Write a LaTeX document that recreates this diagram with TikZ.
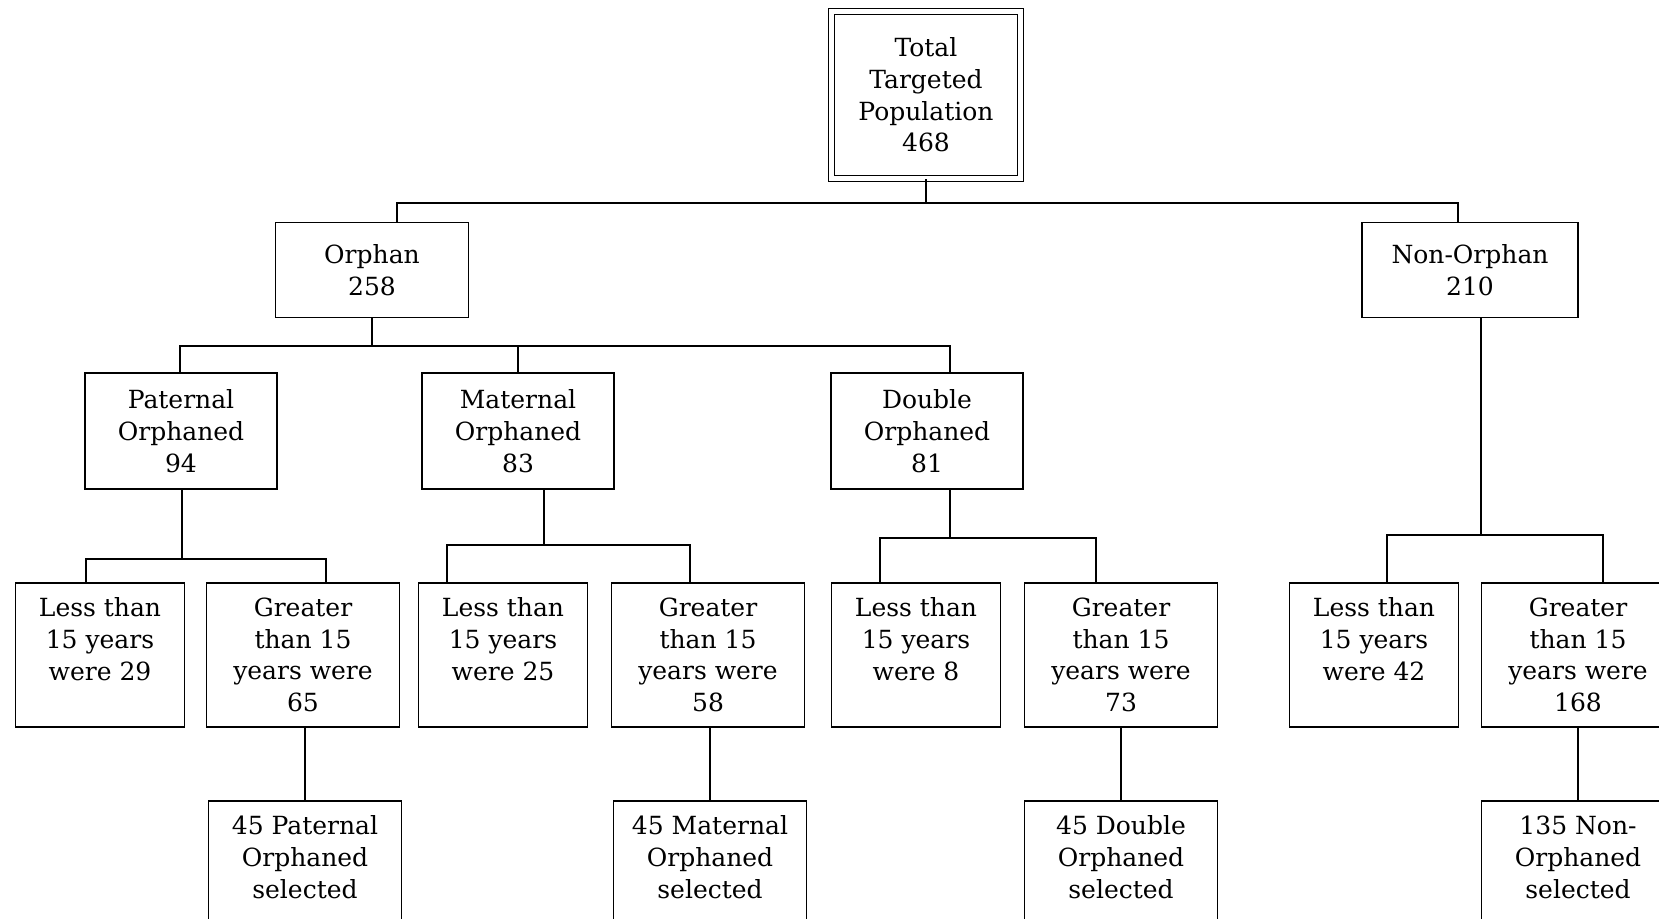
\documentclass[tikz,border=0pt]{standalone}
\usepackage{fontspec}
\setmainfont{DejaVu Serif}

\begin{document}
\begin{tikzpicture}[x=0.5pt,y=-0.5pt,line width=0.9pt,
    box/.style={draw,align=center,inner sep=0pt,font=\fontsize{12.5}{15.85}\selectfont},
    mid/.style={box,minimum width=96pt,minimum height=58pt},
    lessbox/.style={box,minimum width=84.5pt,minimum height=72pt},
    morebox/.style={box,minimum width=96.5pt,minimum height=72pt}]

\useasboundingbox (0,0) rectangle (1659,918);
\clip (0,0) rectangle (1659,918);

\node[box,double,line width=0.7pt,double distance=2.2pt,minimum width=94.5pt,minimum height=83.5pt] (total) at (926,95) {Total\\Targeted\\Population\\468};

\node[box,minimum width=96.5pt,minimum height=47.5pt] (orph) at (372,270) {Orphan\\258};
\node[box,minimum width=108pt,minimum height=47.5pt] (nonorph) at (1470,270) {Non-Orphan\\210};

\node[mid] (pat) at (181,431) {Paternal\\Orphaned\\94};
\node[mid] (mat) at (518,431) {Maternal\\Orphaned\\83};
\node[mid] (dbl) at (927,431) {Double\\Orphaned\\81};

\node[lessbox] (lessP) at (100,655) {Less than\\15 years\\were 29\\~};
\node[morebox] (greatP) at (303,655) {Greater\\than 15\\years were\\65};
\node[lessbox] (lessM) at (503,655) {Less than\\15 years\\were 25\\~};
\node[morebox] (greatM) at (708,655) {Greater\\than 15\\years were\\58};
\node[lessbox] (lessD) at (916,655) {Less than\\15 years\\were 8\\~};
\node[morebox] (greatD) at (1121,655) {Greater\\than 15\\years were\\73};
\node[lessbox] (lessN) at (1374,655) {Less than\\15 years\\were 42\\~};
\node[morebox] (greatN) at (1578,655) {Greater\\than 15\\years were\\168};

\node[morebox] (selP) at (305,873) {45 Paternal\\Orphaned\\selected\\~};
\node[morebox] (selM) at (710,873) {45 Maternal\\Orphaned\\selected\\~};
\node[morebox] (selD) at (1121,873) {45 Double\\Orphaned\\selected\\~};
\node[morebox] (selN) at (1578,873) {135 Non-\\Orphaned\\selected\\~};

% top split
\coordinate (t1) at (397,203);
\coordinate (t2) at (1458,203);
\draw (total.south) -- (total.south |- t1);
\draw (t1 |- orph.north) -- (t1) -- (t2) -- (t2 |- nonorph.north);

% orphan split
\coordinate (o1) at (180,346);
\coordinate (o2) at (950,346);
\draw (orph.south) -- (orph.south |- o1);
\draw (o1 |- pat.north) -- (o1) -- (o2) -- (o2 |- dbl.north);
\draw (mat.north) -- (mat.north |- o1);

% age splits
\foreach \up/\x/\y/\xl/\xr/\lo/\hi in {pat/182/559/86/326/lessP/greatP,
        mat/544/545/447/690/lessM/greatM,
        dbl/950/538/880/1096/lessD/greatD,
        nonorph/1481/535/1387/1603/lessN/greatN}{
    \coordinate (j) at (\x,\y);
    \coordinate (jl) at (\xl,\y);
    \coordinate (jr) at (\xr,\y);
    \draw (j |- \up.south) -- (j);
    \draw (jl |- \lo.north) -- (jl) -- (jr) -- (jr |- \hi.north);
}

% selected
\foreach \hi/\sel in {greatP/selP,greatM/selM,greatD/selD,greatN/selN}
    \draw (\sel.north |- \hi.south) -- (\sel.north);

\end{tikzpicture}
\end{document}
